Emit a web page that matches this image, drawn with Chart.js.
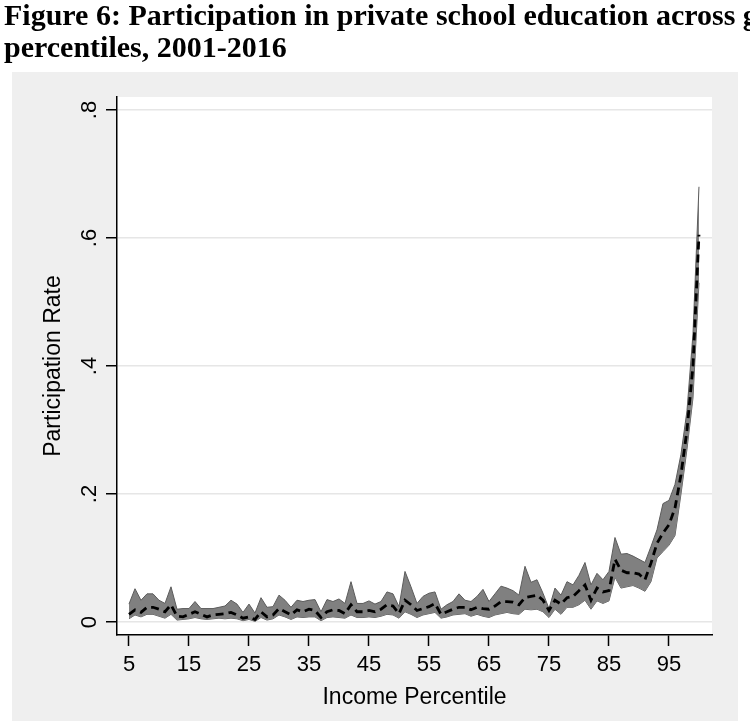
<!DOCTYPE html>
<html>
<head>
<meta charset="utf-8">
<script src="https://cdn.jsdelivr.net/npm/chart.js@4.4.1/dist/chart.umd.min.js"></script>
<style>
  html, body { margin: 0; padding: 0; background: #fff; overflow: hidden; }
  #wrap { position: relative; width: 750px; height: 721px; overflow: hidden; }
  #title {
    position: absolute; left: 4px; top: -1px; z-index: 2;
    font: bold 30px "Liberation Serif", "Times New Roman", serif;
    line-height: 32px; color: #000; white-space: nowrap;
  }
  canvas { position: absolute; left: 0; top: 0; }
</style>
</head>
<body>
<div id="wrap">
  <canvas id="chart" width="750" height="721"></canvas>
  <div id="title">Figure 6: Participation in private school education across g<br>percentiles, 2001-2016</div>
</div>
<script>
const percentiles = [
  5, 6, 7, 8, 9, 10, 11, 12, 13, 14,
  15, 16, 17, 18, 19, 20, 21, 22, 23, 24,
  25, 26, 27, 28, 29, 30, 31, 32, 33, 34,
  35, 36, 37, 38, 39, 40, 41, 42, 43, 44,
  45, 46, 47, 48, 49, 50, 51, 52, 53, 54,
  55, 56, 57, 58, 59, 60, 61, 62, 63, 64,
  65, 66, 67, 68, 69, 70, 71, 72, 73, 74,
  75, 76, 77, 78, 79, 80, 81, 82, 83, 84,
  85, 86, 87, 88, 89, 90, 91, 92, 93, 94,
  95, 96, 97, 98, 99, 100
];
const rateMean = [
  0.012, 0.019, 0.015, 0.023, 0.023, 0.020, 0.016, 0.027, 0.009, 0.008,
  0.012, 0.016, 0.012, 0.008, 0.011, 0.012, 0.013, 0.015, 0.011, 0.006,
  0.008, 0.004, 0.016, 0.008, 0.011, 0.021, 0.016, 0.011, 0.019, 0.016,
  0.020, 0.018, 0.007, 0.016, 0.019, 0.018, 0.013, 0.027, 0.016, 0.016,
  0.018, 0.016, 0.020, 0.027, 0.025, 0.013, 0.034, 0.027, 0.018, 0.021,
  0.024, 0.029, 0.012, 0.016, 0.020, 0.023, 0.023, 0.019, 0.023, 0.021,
  0.020, 0.025, 0.032, 0.032, 0.031, 0.027, 0.038, 0.040, 0.042, 0.034,
  0.018, 0.034, 0.028, 0.038, 0.040, 0.049, 0.058, 0.034, 0.053, 0.047,
  0.049, 0.098, 0.081, 0.077, 0.077, 0.075, 0.066, 0.092, 0.123, 0.139,
  0.152, 0.178, 0.230, 0.300, 0.400, 0.605
];
const rateUpper = [
  0.028, 0.052, 0.034, 0.044, 0.044, 0.034, 0.029, 0.055, 0.020, 0.021,
  0.021, 0.032, 0.021, 0.021, 0.021, 0.023, 0.025, 0.034, 0.028, 0.015,
  0.028, 0.014, 0.038, 0.023, 0.024, 0.042, 0.034, 0.023, 0.034, 0.032,
  0.034, 0.035, 0.016, 0.035, 0.032, 0.036, 0.029, 0.063, 0.029, 0.029,
  0.033, 0.028, 0.032, 0.047, 0.044, 0.024, 0.079, 0.055, 0.029, 0.040,
  0.045, 0.047, 0.020, 0.027, 0.032, 0.044, 0.034, 0.032, 0.040, 0.051,
  0.032, 0.044, 0.056, 0.053, 0.049, 0.042, 0.087, 0.062, 0.066, 0.045,
  0.021, 0.053, 0.042, 0.063, 0.058, 0.073, 0.093, 0.058, 0.076, 0.066,
  0.079, 0.132, 0.106, 0.107, 0.103, 0.098, 0.093, 0.118, 0.144, 0.185,
  0.190, 0.215, 0.262, 0.330, 0.450, 0.680
];
const rateLower = [
  0.005, 0.011, 0.008, 0.012, 0.012, 0.009, 0.006, 0.012, 0.003, 0.004,
  0.005, 0.007, 0.005, 0.004, 0.005, 0.006, 0.005, 0.006, 0.005, 0.002,
  0.004, 0.001, 0.007, 0.003, 0.005, 0.011, 0.008, 0.004, 0.008, 0.007,
  0.008, 0.008, 0.002, 0.007, 0.008, 0.007, 0.006, 0.011, 0.007, 0.007,
  0.008, 0.007, 0.009, 0.012, 0.011, 0.006, 0.016, 0.012, 0.007, 0.011,
  0.013, 0.015, 0.006, 0.008, 0.011, 0.012, 0.013, 0.009, 0.012, 0.009,
  0.007, 0.011, 0.013, 0.015, 0.013, 0.012, 0.020, 0.019, 0.020, 0.016,
  0.007, 0.020, 0.012, 0.023, 0.023, 0.027, 0.034, 0.020, 0.033, 0.029,
  0.033, 0.070, 0.053, 0.055, 0.057, 0.053, 0.048, 0.063, 0.100, 0.110,
  0.120, 0.135, 0.200, 0.270, 0.350, 0.530
];
const xTicks = [5, 15, 25, 35, 45, 55, 65, 75, 85, 95];
const yTicks = [0, 0.2, 0.4, 0.6, 0.8];
const yTickLabels = ["0", ".2", ".4", ".6", ".8"];

const sansFont = '"Liberation Sans", Arial, sans-serif';

function points(values) {
  return percentiles.map((p, i) => ({ x: p, y: values[i] }));
}

// stata-like grey graph region, white plot region, rotated y labels
const stataFrame = {
  id: "stataFrame",
  beforeDraw(chart) {
    const ctx = chart.ctx;
    const area = chart.chartArea;
    ctx.save();
    ctx.fillStyle = "#efefef";
    ctx.fillRect(12, 72, 726, 649);
    ctx.fillStyle = "#ffffff";
    ctx.fillRect(area.left, area.top, area.right - area.left, area.bottom - area.top);
    ctx.restore();
  },
  afterDraw(chart) {
    const ctx = chart.ctx;
    const yScale = chart.scales.y;
    ctx.save();
    ctx.fillStyle = "#000";
    ctx.font = "22px " + sansFont;
    ctx.textAlign = "center";
    ctx.textBaseline = "alphabetic";
    yTicks.forEach((v, i) => {
      ctx.save();
      ctx.translate(96, yScale.getPixelForValue(v));
      ctx.rotate(-Math.PI / 2);
      ctx.fillText(yTickLabels[i], 0, 0);
      ctx.restore();
    });
    ctx.restore();
  },
};

const ctx = document.getElementById("chart").getContext("2d");
new Chart(ctx, {
  type: "line",
  data: {
    datasets: [
      {
        label: "Participation rate",
        data: points(rateMean),
        borderColor: "#000",
        borderWidth: 2.8,
        borderDash: [8, 5],
        pointRadius: 0,
        fill: false,
        tension: 0,
      },
      {
        label: "Upper",
        data: points(rateUpper),
        borderColor: "#5c5c5c",
        borderWidth: 1,
        backgroundColor: "#808080",
        pointRadius: 0,
        fill: "+1",
        tension: 0,
      },
      {
        label: "Lower",
        data: points(rateLower),
        borderColor: "#5c5c5c",
        borderWidth: 1,
        pointRadius: 0,
        fill: false,
        tension: 0,
      },
    ],
  },
  options: {
    responsive: false,
    animation: false,
    layout: { padding: { top: 97, right: 38, left: 0, bottom: 0 } },
    plugins: {
      legend: { display: false },
      tooltip: { enabled: false },
    },
    scales: {
      x: {
        type: "linear",
        min: 3,
        max: 102.17,
        afterBuildTicks: (scale) => {
          scale.ticks = xTicks.map((v) => ({ value: v }));
        },
        afterFit: (scale) => {
          scale.height = 86;
        },
        grid: {
          drawOnChartArea: false,
          tickLength: 11,
          tickColor: "#000",
          tickWidth: 1.5,
        },
        border: { display: true, color: "#000", width: 1.5 },
        ticks: {
          color: "#000",
          font: { family: sansFont, size: 22 },
          padding: 6,
          maxRotation: 0,
          callback: (v) => String(v),
        },
        title: {
          display: true,
          text: "Income Percentile",
          color: "#000",
          font: { family: sansFont, size: 23 },
          padding: { top: 0, bottom: 10 },
        },
      },
      y: {
        min: -0.0203,
        max: 0.8203,
        afterBuildTicks: (scale) => {
          scale.ticks = yTicks.map((v) => ({ value: v }));
        },
        afterFit: (scale) => {
          scale.width = 117;
        },
        grid: {
          color: "#e6e6e6",
          lineWidth: 1.5,
          tickLength: 11,
          tickColor: "#000",
          tickWidth: 1.5,
        },
        border: { display: true, color: "#000", width: 1.5 },
        ticks: { display: false },
        title: {
          display: true,
          text: "Participation Rate",
          color: "#000",
          font: { family: sansFont, size: 23 },
          padding: { top: 40, bottom: 0 },
        },
      },
    },
  },
  plugins: [stataFrame],
});
</script>
</body>
</html>
